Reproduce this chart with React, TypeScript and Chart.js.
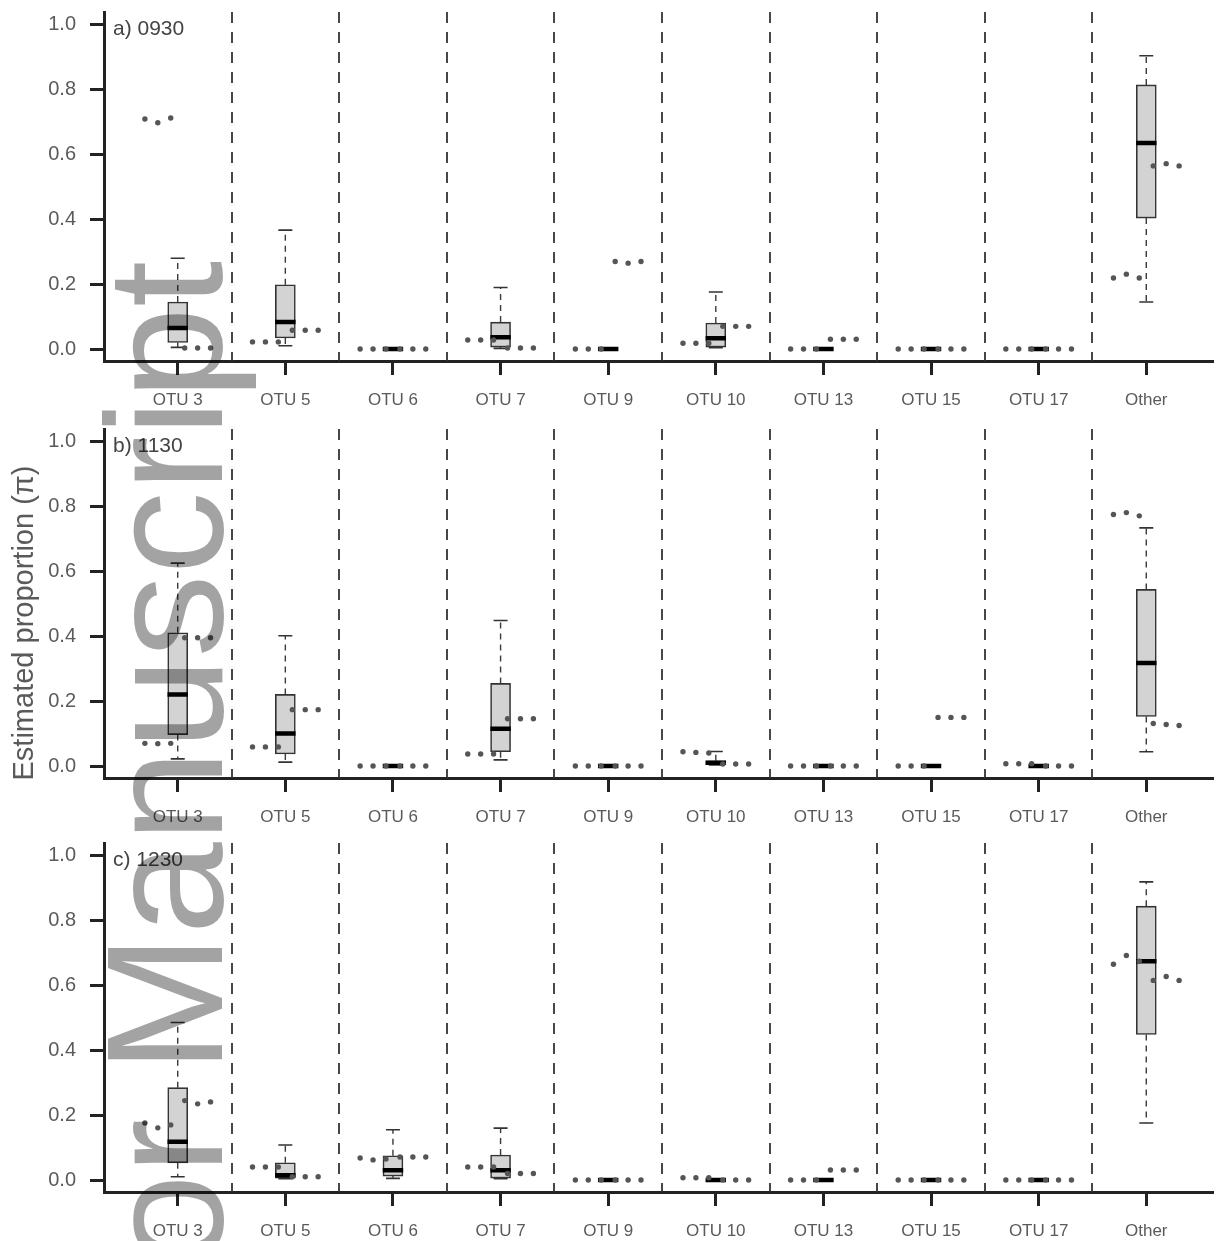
import React, { useEffect, useRef } from "react";
import { Chart, registerables } from "chart.js";

Chart.register(...registerables);

// ---------------- data ----------------
const categories = ["OTU 3", "OTU 5", "OTU 6", "OTU 7", "OTU 9", "OTU 10", "OTU 13", "OTU 15", "OTU 17", "Other"];
const yTickValues = [0, 0.2, 0.4, 0.6, 0.8, 1.0];
const panelLabels = ["a) 0930", "b) 1130", "c) 1230"];
const yAxisTitle = "Estimated proportion (\u03c0)";
const watermarkText = "Author Manuscript";

// panel a) 0930
const lowA = [0.005, 0.01, 0, 0.002, 0, 0.004, 0, 0, 0, 0.145];
const q1A = [0.02, 0.034, 0, 0.006, 0, 0.006, 0, 0, 0, 0.404];
const medA = [0.065, 0.083, 0, 0.036, 0, 0.033, 0, 0, 0, 0.636];
const q3A = [0.145, 0.198, 0, 0.083, 0, 0.08, 0, 0, 0, 0.815];
const highA = [0.28, 0.367, 0, 0.19, 0, 0.176, 0, 0, 0, 0.905];
const leftA = [[0.71, 0.698, 0.713], [0.022, 0.022, 0.022], [0, 0, 0], [0.028, 0.028, 0.028], [0, 0, 0], [0.018, 0.018, 0.018], [0, 0, 0], [0, 0, 0], [0, 0, 0], [0.219, 0.231, 0.219]];
const rightA = [[0.003, 0.003, 0.003], [0.058, 0.058, 0.058], [0, 0, 0], [0.003, 0.003, 0.003], [0.27, 0.265, 0.27], [0.07, 0.07, 0.07], [0.03, 0.03, 0.03], [0, 0, 0], [0, 0, 0], [0.565, 0.572, 0.565]];

// panel b) 1130
const lowB = [0.022, 0.012, 0, 0.019, 0, 0.003, 0, 0, 0, 0.044];
const q1B = [0.097, 0.037, 0, 0.044, 0, 0.004, 0, 0, 0, 0.153];
const medB = [0.221, 0.1, 0, 0.115, 0, 0.01, 0, 0, 0, 0.318];
const q3B = [0.411, 0.221, 0, 0.255, 0, 0.016, 0, 0, 0, 0.545];
const highB = [0.626, 0.402, 0, 0.449, 0, 0.045, 0, 0, 0, 0.735];
const leftB = [[0.07, 0.069, 0.07], [0.059, 0.059, 0.059], [0, 0, 0], [0.037, 0.037, 0.037], [0, 0, 0], [0.044, 0.042, 0.04], [0, 0, 0], [0, 0, 0], [0.007, 0.007, 0.007], [0.776, 0.782, 0.772]];
const rightB = [[0.396, 0.396, 0.396], [0.174, 0.174, 0.174], [0, 0, 0], [0.146, 0.146, 0.146], [0, 0, 0], [0.006, 0.006, 0.006], [0, 0, 0], [0.15, 0.15, 0.15], [0, 0, 0], [0.131, 0.128, 0.125]];

// panel c) 1230
const lowC = [0.01, 0.004, 0.005, 0.004, 0, 0, 0, 0, 0, 0.176];
const q1C = [0.053, 0.006, 0.012, 0.006, 0, 0, 0, 0, 0, 0.449];
const medC = [0.118, 0.015, 0.03, 0.03, 0, 0, 0, 0, 0, 0.675];
const q3C = [0.285, 0.053, 0.075, 0.077, 0, 0, 0, 0, 0, 0.845];
const highC = [0.486, 0.108, 0.155, 0.16, 0, 0, 0, 0, 0, 0.92];
const leftC = [[0.176, 0.161, 0.17], [0.04, 0.04, 0.04], [0.068, 0.062, 0.065], [0.04, 0.04, 0.04], [0, 0, 0], [0.007, 0.007, 0.007], [0, 0, 0], [0, 0, 0], [0, 0, 0], [0.666, 0.693, 0.675]];
const rightC = [[0.245, 0.235, 0.241], [0.01, 0.01, 0.01], [0.071, 0.071, 0.071], [0.02, 0.02, 0.02], [0, 0, 0], [0, 0, 0], [0.031, 0.031, 0.031], [0, 0, 0], [0, 0, 0], [0.616, 0.628, 0.616]];

const panels = [
  { label: panelLabels[0], low: lowA, q1: q1A, med: medA, q3: q3A, high: highA, left: leftA, right: rightA },
  { label: panelLabels[1], low: lowB, q1: q1B, med: medB, q3: q3B, high: highB, left: leftB, right: rightB },
  { label: panelLabels[2], low: lowC, q1: q1C, med: medC, q3: q3C, high: highC, left: leftC, right: rightC },
];

// ---------------- styling / geometry ----------------
const FONT = "'Liberation Sans', Arial, Helvetica, sans-serif";
const W = 1217;
const H = 1241;
const PANEL_H = 416;
const PANEL_TOPS = [0, 417, 831];
const X_MIN = -0.685;
const X_MAX = 9.62;
const Y_MIN = -0.037;
const Y_MAX = 1.04;
const MED_HALF = 0.095;
const CAP_HALF = 0.065;
const LEFT_OFFS = [-0.305, -0.185, -0.065];
const RIGHT_OFFS = [0.065, 0.185, 0.305];
const AXIS_COLOR = "#222";
const TEXT_COLOR = "#5a5a5a";

Chart.defaults.font.family = FONT;

const panelDecor = {
  id: "panelDecor",
  beforeDatasetsDraw(chart: any) {
    const { ctx, chartArea, scales } = chart;
    const x = scales.x;
    ctx.save();
    ctx.strokeStyle = "#333";
    ctx.lineWidth = 1.8;
    ctx.setLineDash([11, 9]);
    for (let i = 0; i < categories.length - 1; i++) {
      const px = Math.round(x.getPixelForValue(i + 0.5));
      ctx.beginPath();
      ctx.moveTo(px, chartArea.top);
      ctx.lineTo(px, chartArea.bottom);
      ctx.stroke();
    }
    ctx.restore();
  },
  afterDraw(chart: any, _args: any, opts: any) {
    const { ctx, chartArea, scales } = chart;
    const y = scales.y;
    ctx.save();
    ctx.fillStyle = "#444";
    ctx.font = `21px ${FONT}`;
    ctx.textAlign = "left";
    ctx.textBaseline = "alphabetic";
    ctx.fillText(opts.label, chartArea.left + 9, y.getPixelForValue(1.0) + 10);
    if (opts.showTitle) {
      ctx.translate(25, 206);
      ctx.rotate(-Math.PI / 2);
      ctx.font = `29px ${FONT}`;
      ctx.fillStyle = TEXT_COLOR;
      ctx.textAlign = "center";
      ctx.textBaseline = "middle";
      ctx.fillText(yAxisTitle, 0, 0);
    }
    ctx.restore();
  },
};

function buildConfig(p: any, showTitle: boolean): any {
  const boxData = categories.map((_, i) => ({ x: i, y: [p.q1[i], p.q3[i]] }));
  const whiskerData: any[] = [];
  const capData: any[] = [];
  const medianData: any[] = [];
  categories.forEach((_, i) => {
    whiskerData.push({ x: i, y: p.q3[i] }, { x: i, y: p.high[i] }, { x: i, y: null });
    whiskerData.push({ x: i, y: p.q1[i] }, { x: i, y: p.low[i] }, { x: i, y: null });
    capData.push({ x: i - CAP_HALF, y: p.high[i] }, { x: i + CAP_HALF, y: p.high[i] }, { x: i, y: null });
    capData.push({ x: i - CAP_HALF, y: p.low[i] }, { x: i + CAP_HALF, y: p.low[i] }, { x: i, y: null });
    medianData.push({ x: i - MED_HALF, y: p.med[i] }, { x: i + MED_HALF, y: p.med[i] }, { x: i, y: null });
  });
  const leftDots: any[] = [];
  const rightDots: any[] = [];
  categories.forEach((_, i) => {
    LEFT_OFFS.forEach((o, j) => leftDots.push({ x: i + o, y: p.left[i][j] }));
    RIGHT_OFFS.forEach((o, j) => rightDots.push({ x: i + o, y: p.right[i][j] }));
  });

  const dotStyle = {
    pointRadius: 2.7,
    pointBackgroundColor: "#555",
    pointBorderWidth: 0,
    pointBorderColor: "#555",
    showLine: false,
  };

  return {
    type: "bar",
    data: {
      datasets: [
        {
          type: "bar",
          label: "box",
          data: boxData,
          backgroundColor: "#d3d3d3",
          borderColor: "#333",
          borderWidth: 1.6,
          borderSkipped: false,
          barThickness: 20,
          order: 5,
        },
        {
          type: "line",
          label: "whisker",
          data: whiskerData,
          borderColor: "#3a3a3a",
          borderWidth: 1.4,
          borderDash: [6, 5],
          pointRadius: 0,
          spanGaps: false,
          tension: 0,
          order: 6,
        },
        {
          type: "line",
          label: "cap",
          data: capData,
          borderColor: "#333",
          borderWidth: 1.6,
          pointRadius: 0,
          spanGaps: false,
          tension: 0,
          order: 4,
        },
        {
          type: "line",
          label: "median",
          data: medianData,
          borderColor: "#000",
          borderWidth: 4.5,
          borderCapStyle: "butt",
          pointRadius: 0,
          spanGaps: false,
          tension: 0,
          order: 3,
        },
        { type: "scatter", label: "left", data: leftDots, ...dotStyle, order: 1 },
        { type: "scatter", label: "right", data: rightDots, ...dotStyle, order: 1 },
      ],
    },
    options: {
      responsive: false,
      animation: false,
      devicePixelRatio: 1,
      events: [],
      layout: { padding: { top: 12, left: 0, right: 0, bottom: 0 } },
      plugins: {
        legend: { display: false },
        tooltip: { enabled: false },
        panelDecor: { label: p.label, showTitle },
      },
      scales: {
        x: {
          type: "linear",
          min: X_MIN,
          max: X_MAX,
          offset: false,
          afterBuildTicks: (s: any) => {
            s.ticks = categories.map((_, i) => ({ value: i }));
          },
          afterFit: (s: any) => {
            s.height = 55;
            s.paddingLeft = 0;
            s.paddingRight = 0;
          },
          ticks: {
            autoSkip: false,
            maxRotation: 0,
            padding: 15,
            color: TEXT_COLOR,
            font: { size: 17, family: FONT },
            callback: (_v: any, i: number) => categories[i],
          },
          grid: {
            offset: false,
            drawOnChartArea: false,
            drawTicks: true,
            tickLength: 14,
            tickWidth: 3,
            tickColor: AXIS_COLOR,
          },
          border: { display: true, color: AXIS_COLOR, width: 3 },
        },
        y: {
          type: "linear",
          min: Y_MIN,
          max: Y_MAX,
          afterBuildTicks: (s: any) => {
            s.ticks = yTickValues.map((v) => ({ value: v }));
          },
          afterFit: (s: any) => {
            s.width = 104;
            s.paddingTop = 0;
            s.paddingBottom = 0;
          },
          ticks: {
            padding: 14,
            color: TEXT_COLOR,
            font: { size: 20, family: FONT },
            callback: (v: any) => Number(v).toFixed(1),
          },
          grid: {
            drawOnChartArea: false,
            drawTicks: true,
            tickLength: 14,
            tickWidth: 3,
            tickColor: AXIS_COLOR,
          },
          border: { display: true, color: AXIS_COLOR, width: 3 },
        },
      },
    },
    plugins: [panelDecor],
  };
}

export default function App() {
  const refA = useRef<HTMLCanvasElement>(null);
  const refB = useRef<HTMLCanvasElement>(null);
  const refC = useRef<HTMLCanvasElement>(null);
  const wmRef = useRef<HTMLCanvasElement>(null);
  const refs = [refA, refB, refC];

  useEffect(() => {
    const charts = panels.map((p, k) => new Chart(refs[k].current as HTMLCanvasElement, buildConfig(p, k === 1)));
    const wm = wmRef.current;
    if (wm) {
      const ctx = wm.getContext("2d");
      if (ctx) {
        ctx.clearRect(0, 0, W, H);
        ctx.save();
        ctx.font = `166px ${FONT}`;
        ctx.fillStyle = "rgba(0,0,0,0.36)";
        ctx.textBaseline = "alphabetic";
        ctx.textAlign = "left";
        ctx.translate(222, 1608);
        ctx.rotate(-Math.PI / 2);
        ctx.fillText(watermarkText, 0, 0);
        ctx.restore();
      }
    }
    return () => charts.forEach((c) => c.destroy());
  }, []);

  return (
    <div style={{ position: "absolute", left: 0, top: 0, width: W, height: H, overflow: "hidden", background: "#fff" }}>
      {refs.map((r, k) => (
        <canvas key={k} ref={r} width={W} height={PANEL_H} style={{ position: "absolute", left: 0, top: PANEL_TOPS[k] }} />
      ))}
      <canvas ref={wmRef} width={W} height={H} style={{ position: "absolute", left: 0, top: 0, pointerEvents: "none" }} />
    </div>
  );
}
